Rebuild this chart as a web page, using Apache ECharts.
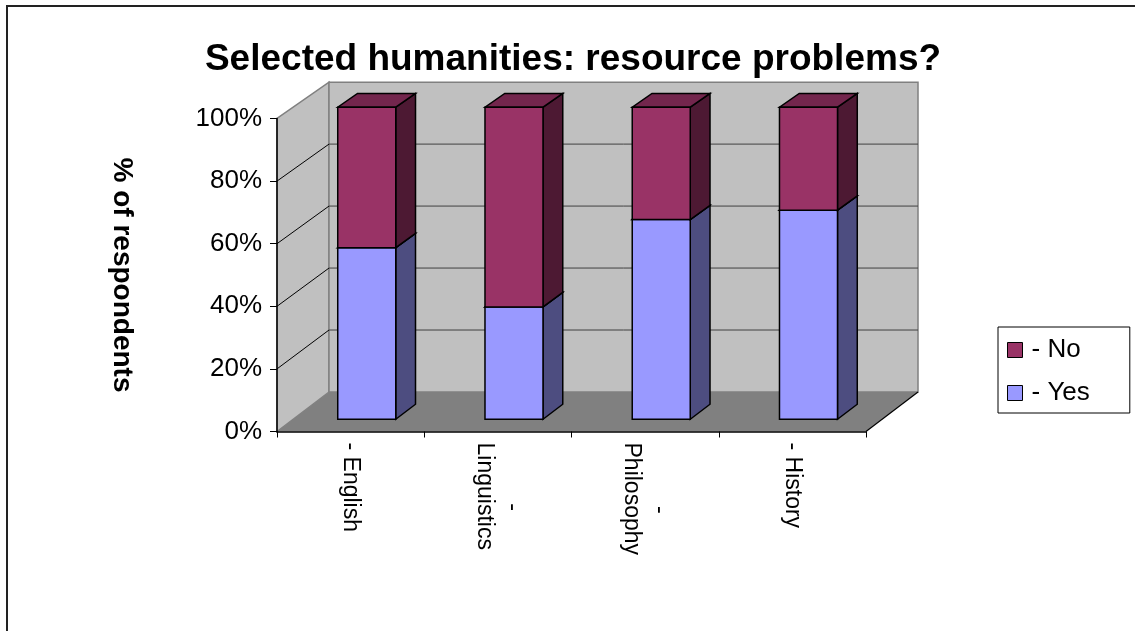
<!DOCTYPE html>
<html><head><meta charset="utf-8">
<script src="https://cdn.jsdelivr.net/npm/echarts@6/dist/echarts.min.js"></script>
<style>html,body{margin:0;padding:0;background:#fff}#c{width:1135px;height:631px}</style>
</head><body><div id="c"></div>
<script>
// ---- data ----
const categories = ['English', 'Linguistics', 'Philosophy', 'History'];
const categoryLabels = ['- English', '-\nLinguistics', '-\nPhilosophy', '- History'];
const yesValues = [55, 36, 64, 67];
const noValues = [45, 64, 36, 33];
const seriesNames = ['- No', '- Yes'];
const yMin = 0, yMax = 100, yStep = 20;

// ---- 3D look helpers ----
const DEPTH_X = 52, DEPTH_Y = 39.5, SHRINK = 0.01;
const BAR_W = 0.394, Z0 = 0.31, Z1 = 0.69;
const FONT = '"Liberation Sans", Arial, sans-serif';

function proj(api, c, off, v, z) {
  const p = api.coord([c, v]);
  const bw = api.size([1, 0])[0];
  const base = api.coord([c, yMin])[1];
  return [p[0] + off * bw + DEPTH_X * z, base + (p[1] - base) * (1 - SHRINK * z) - DEPTH_Y * z];
}

function wallsRender(params, api) {
  const n = categories.length;
  const L = (v, z) => proj(api, 0, -0.5, v, z);
  const R = (v, z) => proj(api, n - 1, 0.5, v, z);
  const ch = [];
  ch.push({type:'polygon', shape:{points:[L(yMin,0), R(yMin,0), R(yMin,1), L(yMin,1)]}, style:{fill:'#808080', stroke:'none'}});
  ch.push({type:'polygon', shape:{points:[L(yMin,0), L(yMax,0), L(yMax,1), L(yMin,1)]}, style:{fill:'#C0C0C0', stroke:'#808080', lineWidth:1.5}});
  ch.push({type:'polygon', shape:{points:[L(yMin,1), L(yMax,1), R(yMax,1), R(yMin,1)]}, style:{fill:'#C0C0C0', stroke:'#808080', lineWidth:1.5}});
  for (let v = yMin + yStep; v < yMax; v += yStep) {
    const a = L(v,0), b = L(v,1), c = R(v,1);
    ch.push({type:'line', shape:{x1:a[0], y1:a[1], x2:b[0], y2:b[1]}, style:{stroke:'#000', lineWidth:1}});
    ch.push({type:'line', shape:{x1:b[0], y1:b[1], x2:c[0], y2:c[1]}, style:{stroke:'#404040', lineWidth:1}});
  }
  const r0 = R(yMin,0), r1 = R(yMin,1);
  ch.push({type:'line', shape:{x1:r0[0], y1:r0[1], x2:r1[0], y2:r1[1]}, style:{stroke:'#000', lineWidth:1.2}});
  return {type:'group', children:ch};
}

function barRender(front, side, top) {
  return function (params, api) {
    const c = api.value(0), lo = api.value(1), hi = api.value(2);
    const h = BAR_W / 2;
    const fl = proj(api,c,-h,lo,Z0), fr = proj(api,c,h,lo,Z0), frt = proj(api,c,h,hi,Z0), flt = proj(api,c,-h,hi,Z0);
    const br = proj(api,c,h,lo,Z1), brt = proj(api,c,h,hi,Z1), blt = proj(api,c,-h,hi,Z1);
    const st = (f) => ({fill:f, stroke:'#000', lineWidth:1.5, lineJoin:'miter'});
    return {type:'group', children:[
      {type:'polygon', shape:{points:[fr,br,brt,frt]}, style:st(side)},
      {type:'polygon', shape:{points:[flt,frt,brt,blt]}, style:st(top)},
      {type:'polygon', shape:{points:[fl,fr,frt,flt]}, style:st(front)}
    ]};
  };
}

const yesData = yesValues.map((v, i) => [i, 0, v]);
const noData = noValues.map((v, i) => [i, yesValues[i], yesValues[i] + v]);

const chart = echarts.init(document.getElementById('c'), null, {renderer:'canvas'});
chart.setOption({
  animation: false,
  backgroundColor: '#fff',
  title: {
    text: 'Selected humanities: resource problems?',
    left: 573, top: 41, textAlign: 'center', padding: 0,
    textStyle: {fontFamily: FONT, fontSize: 37, fontWeight: 'bold', color: '#000'}
  },
  legend: {
    data: seriesNames,
    orient: 'vertical', left: 998, top: 327,
    padding: [10, 40, 7, 9], itemGap: 17,
    itemWidth: 15, itemHeight: 15, icon: 'rect',
    borderColor: '#000', borderWidth: 1,
    itemStyle: {borderColor: '#000', borderWidth: 1},
    textStyle: {fontFamily: FONT, fontSize: 26, color: '#000', padding: [0,0,0,4]}
  },
  grid: {left: 277, right: 269, top: 118.5, bottom: 199.5},
  xAxis: {
    type: 'category', data: categories, z: 5,
    axisLine: {lineStyle: {color: '#000', width: 1.5}},
    axisTick: {show: true, length: 6, lineStyle: {color: '#000', width: 1}},
    axisLabel: {
      rotate: -90, margin: 11, interval: 0,
      fontFamily: FONT, fontSize: 23, color: '#000', lineHeight: 28,
      formatter: (v, i) => {
        const s = categoryLabels[i];
        if (s.indexOf('\n') >= 0) { const p = s.split('\n'); return '{h|' + p[0] + '}\n{t|' + p[1] + '}'; }
        return '{t|' + s + '}';
      },
      rich: {
        h: {fontFamily: FONT, fontSize: 23, lineHeight: 28, align: 'center', padding: [0,0,0,22]},
        t: {fontFamily: FONT, fontSize: 23, lineHeight: 28}
      }
    },
    splitLine: {show: false}
  },
  yAxis: {
    type: 'value', min: yMin, max: yMax, interval: yStep, z: 5,
    name: '% of respondents', nameLocation: 'middle', nameRotate: -90, nameGap: 141,
    nameTextStyle: {fontFamily: FONT, fontSize: 28, fontWeight: 'bold', color: '#000'},
    axisLine: {show: true, lineStyle: {color: '#000', width: 1.5}},
    axisTick: {show: true, length: 7, lineStyle: {color: '#000', width: 1}},
    axisLabel: {formatter: '{value}%', margin: 15, fontFamily: FONT, fontSize: 26, color: '#000'},
    splitLine: {show: false}
  },
  graphic: [{type: 'rect', shape: {x: 7, y: 6, width: 1200, height: 700}, style: {fill: 'none', stroke: '#222', lineWidth: 2}, z: 100, silent: true}],
  series: [
    {type: 'custom', name: 'walls', renderItem: wallsRender, data: [[0]], z: 1, silent: true, clip: false},
    {type: 'custom', name: '- Yes', renderItem: barRender('#9999FF', '#4D4D80', '#7373BF'), data: yesData, z: 3,
     itemStyle: {color: '#9999FF'}, encode: {x: 0, y: 2}},
    {type: 'custom', name: '- No', renderItem: barRender('#993366', '#4D1933', '#73264D'), data: noData, z: 3,
     itemStyle: {color: '#993366'}, encode: {x: 0, y: 2}}
  ]
});
</script></body></html>
